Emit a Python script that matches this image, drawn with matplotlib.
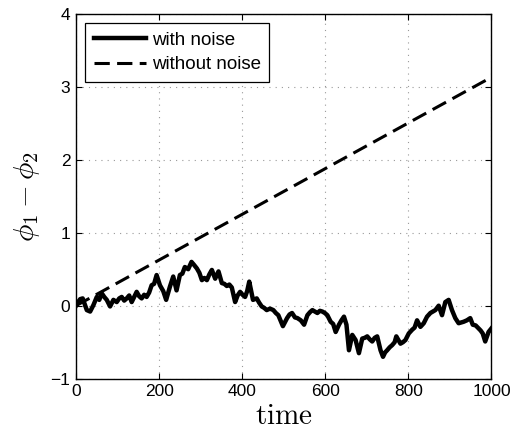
import matplotlib
matplotlib.use("Agg")
import matplotlib.pyplot as plt
import numpy as np

plt.rcParams['font.family'] = ['Liberation Sans', 'DejaVu Sans']
plt.rcParams['mathtext.fontset'] = 'cm'

# noisy trajectory
t_noise = [0, 5, 10, 16, 21, 26, 34, 42, 50, 56, 62, 68, 74, 82, 90, 98, 104, 110, 116,
           122, 128, 134, 140, 146, 152, 158, 164, 170, 176, 182, 188, 194, 202, 210,
           217, 226, 234, 242, 250, 256, 262, 270, 278, 284, 291, 297, 303, 309, 315,
           321, 327, 335, 343, 351, 357, 363, 369, 375, 383, 389, 395, 401, 407, 412,
           417, 426, 435, 441, 447, 453, 459, 467, 475, 481, 487, 498, 508, 514, 520,
           527, 533, 541, 549, 557, 563, 569, 575, 581, 587, 593, 599, 605, 613, 619,
           625, 633, 639, 645, 651, 657, 665, 673, 681, 689, 695, 701, 707, 713, 719,
           725, 733, 739, 744, 749, 755, 761, 767, 771, 776, 781, 787, 793, 801, 809,
           815, 821, 829, 837, 845, 853, 859, 865, 873, 881, 889, 897, 905, 913, 921,
           927, 933, 941, 949, 955, 962, 969, 974, 979, 985, 993, 1000]
phi_noise = [0.0, 0.05, 0.09, 0.1, 0.02, -0.06, -0.08, 0.01, 0.12, 0.08, 0.17, 0.12,
             0.08, -0.01, 0.08, 0.05, 0.1, 0.12, 0.07, 0.1, 0.14, 0.05, 0.12, 0.19, 0.13,
             0.1, 0.15, 0.12, 0.18, 0.28, 0.3, 0.42, 0.28, 0.2, 0.08, 0.26, 0.4, 0.21,
             0.42, 0.44, 0.53, 0.5, 0.6, 0.56, 0.51, 0.45, 0.35, 0.38, 0.35, 0.43, 0.49,
             0.37, 0.47, 0.31, 0.3, 0.27, 0.29, 0.25, 0.05, 0.14, 0.19, 0.15, 0.12, 0.2,
             0.33, 0.08, 0.1, 0.04, -0.01, -0.03, -0.06, -0.04, -0.06, -0.1, -0.13, -0.28,
             -0.17, -0.12, -0.1, -0.16, -0.17, -0.2, -0.26, -0.13, -0.09, -0.06, -0.08,
             -0.1, -0.07, -0.08, -0.1, -0.13, -0.22, -0.25, -0.36, -0.26, -0.2, -0.15,
             -0.26, -0.61, -0.4, -0.47, -0.65, -0.45, -0.44, -0.42, -0.46, -0.49, -0.44,
             -0.42, -0.61, -0.7, -0.64, -0.61, -0.57, -0.54, -0.5, -0.42, -0.47, -0.52,
             -0.5, -0.47, -0.38, -0.33, -0.3, -0.2, -0.29, -0.24, -0.15, -0.1, -0.08,
             -0.06, 0.0, -0.13, 0.05, 0.08, -0.06, -0.17, -0.24, -0.23, -0.22, -0.2,
             -0.17, -0.26, -0.27, -0.31, -0.34, -0.38, -0.49, -0.36, -0.31]

# deterministic trajectory
t_clean = [0, 1000]
phi_clean = [0.0, 3.13]

fig = plt.figure(figsize=(5.29, 4.34), dpi=100)
ax = fig.add_axes([0.1437, 0.1274, 0.7853, 0.841])

ax.plot(t_noise, phi_noise, color='black', lw=3.2, label='with noise')
ax.plot(t_clean, phi_clean, color='black', lw=2.2, ls=(0, (5, 2.4)),
        label='without noise')

ax.set_xlim(0, 1000)
ax.set_ylim(-1, 4)
ax.set_xticks([0, 200, 400, 600, 800, 1000])
ax.set_yticks([-1, 0, 1, 2, 3, 4])
ax.set_yticklabels(['\u22121', '0', '1', '2', '3', '4'])
ax.tick_params(direction='in', top=True, right=True, labelsize=12.5, length=4,
               width=0.8, pad=4)
ax.grid(True, ls=(0, (1, 4.6)), color='#999999', lw=0.8)
for s in ax.spines.values():
    s.set_linewidth(1.0)

ax.set_xlabel(r'$\mathrm{time}$', fontsize=21, labelpad=2)
ax.set_ylabel(r'$\phi_1-\phi_2$', fontsize=21, labelpad=6)

leg = ax.legend(loc='upper left', fontsize=13.5, fancybox=False, framealpha=1,
                edgecolor='black', handlelength=2.8, handletextpad=0.3,
                borderpad=0.45, labelspacing=0.4, borderaxespad=0.5)
leg.get_frame().set_linewidth(0.9)

fig.savefig('out.png', dpi=100)
